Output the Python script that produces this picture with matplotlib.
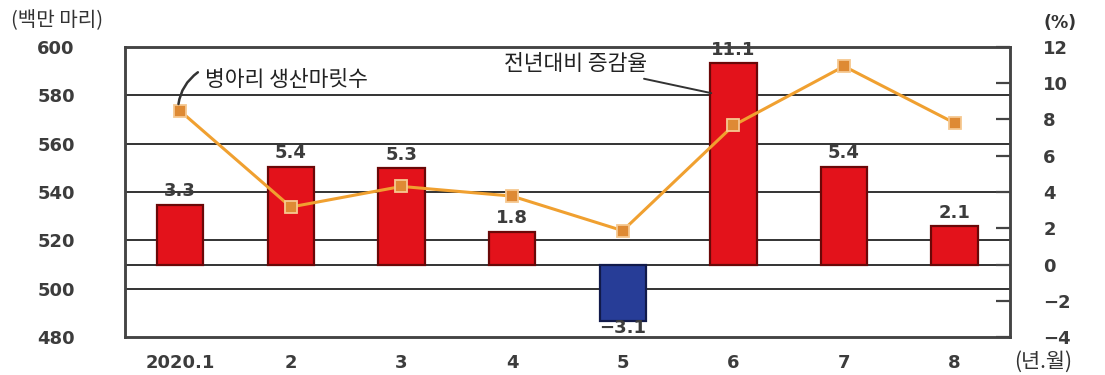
import matplotlib
matplotlib.use("Agg")
import matplotlib.pyplot as plt

# Monthly chick production (million head) and year-on-year change (%)
months = ["2020.1", "2", "3", "4", "5", "6", "7", "8"]
yoy_change = [3.3, 5.4, 5.3, 1.8, -3.1, 11.1, 5.4, 2.1]
chicks_produced = [573.5, 533.8, 542.3, 538.3, 524.0, 567.5, 592.0, 568.5]

left_ticks = [480, 500, 520, 540, 560, 580, 600]
right_ticks = [-4, -2, 0, 2, 4, 6, 8, 10, 12]

KR = ["Noto Sans CJK KR", "DejaVu Sans"]
NUM = ["DejaVu Sans"]
GRAY = "#3c3c3c"
LINE_C = "#f0a030"

fig = plt.figure(figsize=(11.05, 3.75), dpi=100)
ax = fig.add_axes([0.113, 0.101, 0.801, 0.774])   # bars, % scale (right)
ax2 = ax.twinx()                                  # line, head count (left)

LMIN, LMAX, RMIN, RMAX = 480, 600, -4, 12
ax.set_ylim(RMIN, RMAX)
ax2.set_ylim(LMIN, LMAX)
x = list(range(len(months)))
ax.set_xlim(-0.5, len(months) - 0.5)


def left_to_right(v):
    return RMIN + (v - LMIN) / (LMAX - LMIN) * (RMAX - RMIN)


# horizontal rules behind the bars
for v in [500, 520, 540, 560, 580]:
    ax.axhline(left_to_right(v), color="#333333", lw=1.4, zorder=1)
ax.axhline(0, color="#333333", lw=1.4, zorder=1)

colors = ["#e3121b" if v >= 0 else "#273d97" for v in yoy_change]
edges = ["#6a0808" if v >= 0 else "#111a4a" for v in yoy_change]
ax.bar(x, yoy_change, width=0.42, color=colors, edgecolor=edges,
       linewidth=1.6, zorder=2)

for xi, v in zip(x, yoy_change):
    if v >= 0:
        ax.text(xi, v + 0.25, f"{v:.1f}", ha="center", va="bottom",
                fontsize=13, fontweight="bold", color=GRAY, family=NUM)
    else:
        ax.text(xi, v + 0.1, f"\u2212{abs(v):.1f}", ha="center", va="top",
                fontsize=13, fontweight="bold", color=GRAY, family=NUM,
                zorder=4)

ax2.plot(x, chicks_produced, color=LINE_C, lw=2.2, marker="s", markersize=9,
         markerfacecolor="#de8a34", markeredgecolor="#f6c890",
         markeredgewidth=1.3, zorder=3)

# axes styling
for a in (ax, ax2):
    for s in a.spines.values():
        s.set_color("#444444")
        s.set_linewidth(1.8)
    a.set_facecolor("none")

ax.yaxis.tick_right()
ax.set_yticks(right_ticks)
ax.set_yticklabels([str(t) if t >= 0 else f"\u2212{abs(t)}" for t in right_ticks])
ax.tick_params(axis="y", direction="in", length=10, width=1.6,
               color="#444444", pad=24)
for lab in ax.get_yticklabels():
    lab.set_horizontalalignment("left")

ax2.yaxis.tick_left()
ax2.set_yticks(left_ticks)
ax2.tick_params(axis="y", length=0, pad=36)

ax.set_xticks(x)
ax.set_xticklabels(months)
ax.tick_params(axis="x", length=0, pad=12)

for lab in ax.get_yticklabels() + ax2.get_yticklabels() + ax.get_xticklabels():
    lab.set_fontsize(13)
    lab.set_fontweight("bold")
    lab.set_color(GRAY)
    lab.set_family(NUM)

# unit captions
fig.text(0.010, 0.945, "(백만 마리)", fontsize=14.5, color="#333333",
         family=KR, ha="left", va="center")
fig.text(0.944, 0.940, "(%)", fontsize=12.5, fontweight="bold",
         color="#333333", family=NUM, ha="left", va="center")
fig.text(0.918, 0.035, "(년.월)", fontsize=15, color="#333333",
         family=KR, ha="left", va="center")

# series callouts
ax2.annotate("", xy=(-0.02, chicks_produced[0]), xytext=(0.16, 589.5),
             textcoords="data",
             arrowprops=dict(arrowstyle="-", color="#333333", lw=1.8,
                             connectionstyle="arc3,rad=0.25",
                             shrinkA=0, shrinkB=5))
ax2.text(0.22, 586.2, "병아리 생산마릿수", fontsize=15.5, color="#222222",
         family=KR, va="center", ha="left")
ax.annotate("전년대비 증감율", xy=(4.8, 9.45), xytext=(4.22, 11.05),
            textcoords="data", fontsize=15.5, color="#222222", family=KR,
            va="center", ha="right",
            arrowprops=dict(arrowstyle="-", color="#333333", lw=1.4,
                            shrinkA=3, shrinkB=0))

fig.savefig("out.png", dpi=100)
